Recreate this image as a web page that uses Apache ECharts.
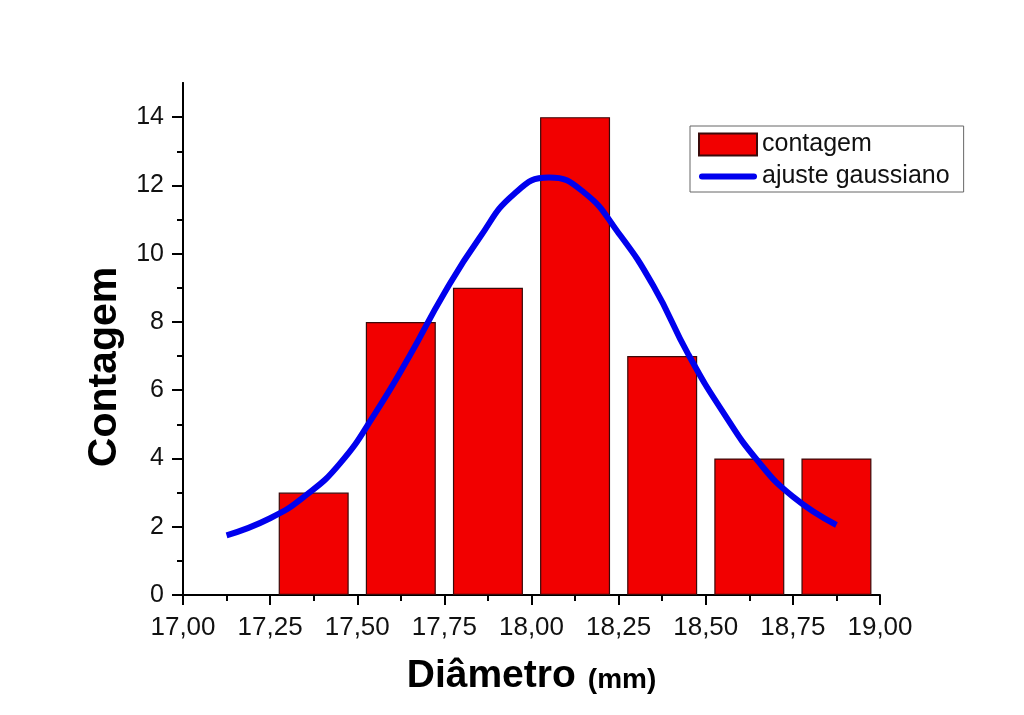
<!DOCTYPE html>
<html><head><meta charset="utf-8">
<script src="https://cdn.jsdelivr.net/npm/echarts@6/dist/echarts.min.js"></script>
<style>html,body{margin:0;padding:0;background:#fff}#c{width:1024px;height:715px}</style>
</head><body><div id="c"></div>
<script>
// histogram bins (centres, mm) and counts
const binCenters = [17.375, 17.625, 17.875, 18.125, 18.375, 18.625, 18.875];
const counts = [3, 8, 9, 14, 7, 4, 4];
// gaussian fit curve
const fitX = [17.125, 17.25, 17.35, 17.45, 17.55, 17.65, 17.75, 17.85, 17.95, 18.05, 18.15, 18.25, 18.35, 18.45, 18.55, 18.65, 18.75, 18.875];
const fitY = [1.75, 2.25, 2.9, 3.85, 5.3, 7.0, 8.85, 10.45, 11.75, 12.23, 11.8, 10.6, 9.05, 7.05, 5.35, 3.92, 2.88, 2.05];
const yMajorTicks = [0, 2, 4, 6, 8, 10, 12, 14];
const yMinorTicks = [1, 3, 5, 7, 9, 11, 13];
const seriesNames = ['contagem', 'ajuste gaussiano'];
const xTitle = 'Diâmetro';
const xUnit = '(mm)';
const yTitle = 'Contagem';

const FONT = '"Liberation Sans", Arial, sans-serif';
const chart = echarts.init(document.getElementById('c'), null, {renderer: 'canvas'});
const barData = binCenters.map((x, i) => [x, counts[i]]);
const fitData = fitX.map((x, i) => [x, fitY[i]]);

chart.setOption({
  animation: false,
  backgroundColor: '#fff',
  grid: {left: 183, right: 144, top: 83, bottom: 120},
  legend: {
    orient: 'vertical', left: 690, top: 126,
    padding: [6, 14, 3, 8], itemGap: 7, itemWidth: 58, itemHeight: 22,
    borderColor: '#666', borderWidth: 1,
    textStyle: {fontFamily: FONT, fontSize: 25, color: '#111'},
    data: [
      {name: seriesNames[0], icon: 'rect'},
      {name: seriesNames[1], icon: 'path://M3,0H55A3,3 0 0 1 55,6H3A3,3 0 0 1 3,0Z'}
    ]
  },
  xAxis: {
    type: 'value', min: 17, max: 19, interval: 0.25,
    name: '{a|' + xTitle + '}{b|' + xUnit + '}',
    nameLocation: 'middle', nameGap: 62,
    nameTextStyle: {rich: {
      a: {fontFamily: FONT, fontSize: 39, fontWeight: 'bold', color: '#000'},
      b: {fontFamily: FONT, fontSize: 28, fontWeight: 'bold', color: '#000', padding: [8, 0, 0, 12]}
    }},
    axisLine: {show: true, onZero: false, lineStyle: {color: '#000', width: 2}},
    axisTick: {show: true, length: 10, lineStyle: {color: '#000', width: 2}},
    minorTick: {show: true, splitNumber: 2, length: 6, lineStyle: {color: '#000', width: 2}},
    splitLine: {show: false},
    axisLabel: {fontFamily: FONT, fontSize: 26, color: '#111', margin: 20,
      formatter: v => v.toFixed(2).replace('.', ',')}
  },
  yAxis: [
    {
      type: 'value', min: 0, max: 15, interval: 1, position: 'left',
      axisLine: {show: true, onZero: false, lineStyle: {color: '#000', width: 2}},
      axisTick: {show: true, length: 6, customValues: yMinorTicks, lineStyle: {color: '#000', width: 2}},
      axisLabel: {show: false},
      splitLine: {show: false}
    },
    {
      type: 'value', min: 0, max: 15, interval: 2, position: 'left',
      name: yTitle, nameLocation: 'middle', nameGap: 44,
      nameTextStyle: {fontFamily: FONT, fontSize: 41, fontWeight: 'bold', color: '#000', padding: [0, 56, 0, 0]},
      axisLine: {show: true, onZero: false, lineStyle: {color: '#000', width: 2}},
      axisTick: {show: true, length: 11, customValues: yMajorTicks, lineStyle: {color: '#000', width: 2}},
      axisLabel: {fontFamily: FONT, fontSize: 25, color: '#111', margin: 19, customValues: yMajorTicks},
      splitLine: {show: false}
    }
  ],
  series: [
    {
      name: seriesNames[0], type: 'bar', yAxisIndex: 0, data: barData, barWidth: 70,
      itemStyle: {color: '#f20000', borderColor: '#3a0a0a', borderWidth: 1.2},
      z: 2
    },
    {
      name: seriesNames[1], type: 'line', yAxisIndex: 0, data: fitData, smooth: true,
      symbol: 'none', showSymbol: false,
      lineStyle: {color: '#0000ee', width: 6},
      itemStyle: {color: '#0000ee'},
      z: 3
    }
  ]
});
</script></body></html>
